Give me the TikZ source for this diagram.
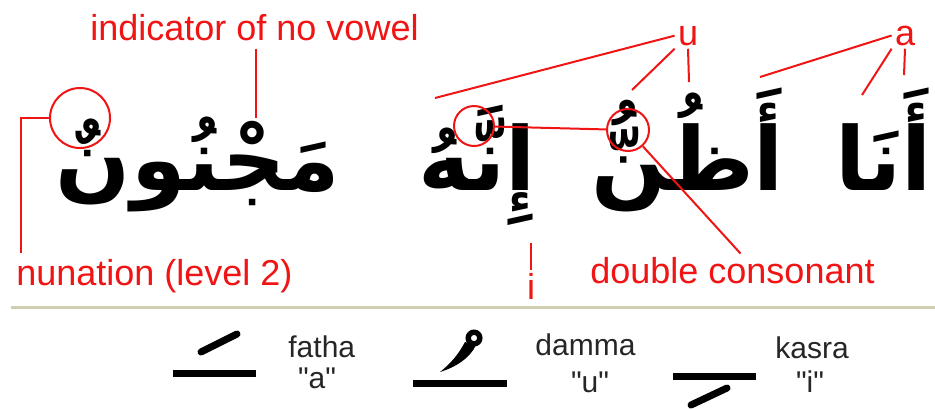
\documentclass[tikz,border=0pt]{standalone}
\usepackage{fontspec}
\setmainfont{Liberation Sans}[Ligatures=TeXOff]
\newfontfamily\arabicfont[Script=Arabic]{DejaVu Sans}
\TeXXeTstate=1
\usetikzlibrary{calc}
\definecolor{NoteRed}{RGB}{240,20,20}
\definecolor{RuleOlive}{RGB}{206,206,176}

\begin{document}
\begin{tikzpicture}[x=0.5pt, y=-0.5pt,
    note/.style={text=NoteRed, font=\fontsize{18}{20}\selectfont, inner sep=1.5pt},
    word/.style={font=\arabicfont\bfseries\fontsize{44}{50}\selectfont,
                 inner sep=0pt, anchor=base},
    lead/.style={draw=NoteRed, line width=1pt},
    ring/.style={circle, draw=NoteRed, line width=1pt, inner sep=0pt},
    legtxt/.style={text=black!85, font=\fontsize{15}{17}\selectfont, inner sep=0pt},
    legbar/.style={line width=3.5pt},
    legslash/.style={line width=3.5pt, line cap=round}
  ]
  \useasboundingbox (0,0) rectangle (935,409);
  \fill[white] (0,0) rectangle (935,409);

  % the sentence, one node per word
  \node[word] (w4) at (198,190) {\beginR مَجْنُونٌ\endR};
  \node[word] (w3) at (477,190) {\beginR إِنَّهُ\endR};
  \node[word] (w2) at (688,190) {\beginR أَظُنُّ\endR};
  \node[word, anchor=base west] (w1) at (835,190) {\beginR أَنَا\endR};

  % red labels
  \node[note, anchor=base west] (ind)    at (87,40)   {indicator of no vowel};
  \node[note, anchor=base west] (nunlab) at (13,285)  {nunation (level 2)};
  \node[note, anchor=base west] (dc)     at (587,283) {double consonant};
  \node[note, anchor=base] (ulab) at (688,45)  {u};
  \node[note, anchor=base] (alab) at (905,45)  {a};
  \node[note, anchor=base] (ilab) at (531,299) {i};

  % marks pointed at
  \node[ring, minimum size=30pt] (nun) at (80,118) {};
  \node[ring, minimum size=20pt] (sh1) at (474,126) {};
  \node[ring, minimum size=21pt] (sh2) at (628,130) {};
  \coordinate (sukun)   at (256,118);
  \coordinate (nunfoot) at (21,253);
  \coordinate (kasra)   at (531,243);
  \coordinate (dammaA)  at (435,98);
  \coordinate (dammaB)  at (632,90);
  \coordinate (dammaC)  at (689,82);
  \coordinate (fathaA)  at (760,77);
  \coordinate (fathaB)  at (862,95);
  \coordinate (fathaC)  at (904,75);

  % leaders
  \draw[lead] ($(ind.south -| sukun)+(0,5)$) -- (sukun);
  \draw[lead] (nun.west) -| (nunfoot);
  \draw[lead] (sh1) -- (sh2);
  \draw[lead] (sh2) -- ($(dc.north)+(8,0)$);
  \draw[lead] (kasra) -- (ilab.north);
  \draw[lead] (ulab.west) -- (dammaA);
  \draw[lead] (ulab.south west) -- (dammaB);
  \draw[lead] (ulab.south) -- (dammaC);
  \draw[lead] (alab.west) -- (fathaA);
  \draw[lead] (alab.south west) -- (fathaB);
  \draw[lead] (alab.south) -- (fathaC);

  % separator
  \draw[RuleOlive, line width=1.5pt] (11,307) -- (935,307);

  % legend: fatha
  \draw[legbar] (173,373) -- (256,373);
  \draw[legslash] (201,352) -- (237,334);
  \node[legtxt, anchor=base west] (fathaname) at (288,357) {fatha};
  \node[legtxt, anchor=base] (fathasound) at (317,388) {"a"};
  % legend: damma
  \draw[legbar] (413,383) -- (507,383);
  \draw[line width=2.7pt] (474,338) circle[radius=5.8];
  \fill (465,342) .. controls (458,355) and (451,363) .. (440,372)
        .. controls (456,367) and (470,358) .. (476,345) -- cycle;
  \node[legtxt, anchor=base west] (dammaname) at (535,355) {damma};
  \node[legtxt, anchor=base] (dammasound) at (590,392) {"u"};
  % legend: kasra
  \draw[legbar] (673,376) -- (756,376);
  \draw[legslash] (691,405) -- (727,388);
  \node[legtxt, anchor=base west] (kasraname) at (775,358) {kasra};
  \node[legtxt, anchor=base] (kasrasound) at (810,392) {"i"};
\end{tikzpicture}
\end{document}
